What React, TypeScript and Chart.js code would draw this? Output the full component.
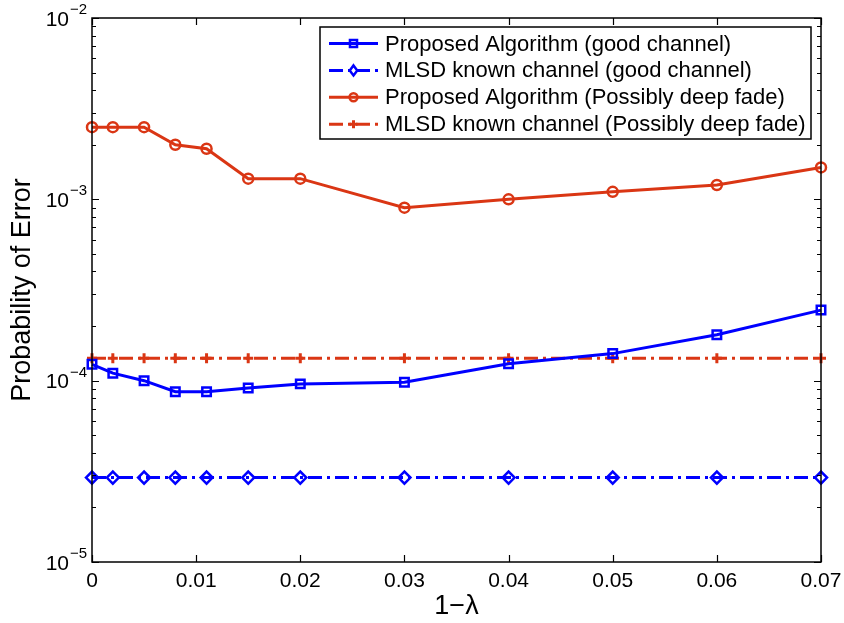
import React, { useEffect, useRef } from "react";
import { Chart, registerables } from "chart.js";

Chart.register(...registerables);

// ---- data ----
const X_VALUES = [0, 0.002, 0.005, 0.008, 0.011, 0.015, 0.02, 0.03, 0.04, 0.05, 0.06, 0.07];
const PROPOSED_GOOD = [1.23e-4, 1.1e-4, 1.0e-4, 8.7e-5, 8.7e-5, 9.1e-5, 9.6e-5, 9.8e-5, 1.24e-4, 1.41e-4, 1.79e-4, 2.45e-4];
const MLSD_GOOD = [2.92e-5, 2.92e-5, 2.92e-5, 2.92e-5, 2.92e-5, 2.92e-5, 2.92e-5, 2.92e-5, 2.92e-5, 2.92e-5, 2.92e-5, 2.92e-5];
const PROPOSED_FADE = [2.5e-3, 2.5e-3, 2.5e-3, 2.0e-3, 1.9e-3, 1.3e-3, 1.3e-3, 9.0e-4, 1.0e-3, 1.1e-3, 1.2e-3, 1.5e-3];
const MLSD_FADE = [1.33e-4, 1.33e-4, 1.33e-4, 1.33e-4, 1.33e-4, 1.33e-4, 1.33e-4, 1.33e-4, 1.33e-4, 1.33e-4, 1.33e-4, 1.33e-4];

const SERIES_LABELS = [
  "Proposed Algorithm (good channel)",
  "MLSD known channel (good channel)",
  "Proposed Algorithm (Possibly deep fade)",
  "MLSD known channel (Possibly deep fade)",
];
const X_TICKS = [0, 0.01, 0.02, 0.03, 0.04, 0.05, 0.06, 0.07];
const Y_TICK_EXPONENTS = [-5, -4, -3, -2];
const X_TITLE = "1\u2212\u03bb";
const Y_TITLE = "Probability of Error";

const BLUE = "#0000ff";
const RED = "#da3614";
const FONT = "'Liberation Sans', Arial, Helvetica, sans-serif";
const DASHDOT = [14, 5, 3, 5];

const toPoints = (ys: number[]) => X_VALUES.map((x, i) => ({ x, y: ys[i] }));

function drawMarker(ctx: CanvasRenderingContext2D, style: string, r: number, x: number, y: number) {
  ctx.beginPath();
  if (style === "rect") {
    const s = Math.SQRT1_2 * r;
    ctx.rect(x - s, y - s, 2 * s, 2 * s);
  } else if (style === "rectRot") {
    ctx.moveTo(x, y - r);
    ctx.lineTo(x + r * 0.75, y);
    ctx.lineTo(x, y + r);
    ctx.lineTo(x - r * 0.75, y);
    ctx.closePath();
  } else if (style === "circle") {
    ctx.arc(x, y, r, 0, Math.PI * 2);
  } else if (style === "cross") {
    ctx.moveTo(x - r, y);
    ctx.lineTo(x + r, y);
    ctx.moveTo(x, y - r);
    ctx.lineTo(x, y + r);
  }
  ctx.stroke();
}

const framePlugin = {
  id: "frame",
  afterDraw(chart: any) {
    const { ctx, chartArea, scales } = chart;
    const { left, right, top, bottom } = chartArea;
    const xs = scales.x;
    const ys = scales.y;
    ctx.save();
    ctx.strokeStyle = "#000";
    ctx.lineWidth = 1.2;
    ctx.setLineDash([]);
    ctx.beginPath();
    for (const v of X_TICKS) {
      const px = Math.round(xs.getPixelForValue(v)) + 0.5;
      ctx.moveTo(px, bottom);
      ctx.lineTo(px, bottom - 7);
      ctx.moveTo(px, top);
      ctx.lineTo(px, top + 7);
    }
    for (let e = -5; e <= -2; e++) {
      for (let m = 1; m <= 9; m++) {
        const v = m * Math.pow(10, e);
        if (v > 1.0001e-2) break;
        const py = Math.round(ys.getPixelForValue(v)) + 0.5;
        const len = m === 1 ? 7 : 4;
        ctx.moveTo(left, py);
        ctx.lineTo(left + len, py);
        ctx.moveTo(right, py);
        ctx.lineTo(right - len, py);
      }
    }
    ctx.stroke();
    ctx.lineWidth = 1.5;
    ctx.strokeRect(left, top, right - left, bottom - top);

    // y tick labels with superscript exponents
    ctx.fillStyle = "#000";
    for (const e of Y_TICK_EXPONENTS) {
      const py = ys.getPixelForValue(Math.pow(10, e));
      ctx.font = `21px ${FONT}`;
      ctx.textAlign = "right";
      ctx.textBaseline = "middle";
      ctx.fillText("10", left - 23, py + 2);
      ctx.font = `15px ${FONT}`;
      ctx.textAlign = "left";
      ctx.textBaseline = "alphabetic";
      ctx.fillText("\u2212" + Math.abs(e), left - 22, py - 4);
    }

    // legend
    const bx = 320, by = 27, bw = 491, bh = 112;
    ctx.fillStyle = "#fff";
    ctx.fillRect(bx, by, bw, bh);
    ctx.strokeStyle = "#000";
    ctx.lineWidth = 1.5;
    ctx.strokeRect(bx, by, bw, bh);
    chart.data.datasets.forEach((ds: any, i: number) => {
      const ry = 43.5 + i * 26.9;
      ctx.strokeStyle = ds.borderColor;
      ctx.lineWidth = ds.borderWidth;
      ctx.setLineDash(ds.borderDash || []);
      ctx.beginPath();
      ctx.moveTo(329, ry);
      ctx.lineTo(378, ry);
      ctx.stroke();
      ctx.setLineDash([]);
      ctx.lineWidth = ds.pointBorderWidth;
      ctx.strokeStyle = ds.pointBorderColor;
      drawMarker(ctx, ds.pointStyle, ds.pointRadius - 1, 353.5, ry);
      ctx.fillStyle = "#000";
      ctx.font = `22px ${FONT}`;
      ctx.textAlign = "left";
      ctx.textBaseline = "middle";
      ctx.fillText(ds.label, 385, ry + 1);
    });
    ctx.restore();
  },
};

export default function App() {
  const canvasRef = useRef<HTMLCanvasElement | null>(null);

  useEffect(() => {
    document.body.style.margin = "0";
    if (!canvasRef.current) return;
    const common = {
      fill: false,
      tension: 0,
      clip: false as any,
      pointBackgroundColor: "rgba(0,0,0,0)",
      pointBorderWidth: 2.5,
      borderWidth: 3,
    };
    const chart = new Chart(canvasRef.current, {
      type: "line",
      data: {
        datasets: [
          {
            ...common,
            label: SERIES_LABELS[0],
            data: toPoints(PROPOSED_GOOD),
            borderColor: BLUE,
            pointBorderColor: BLUE,
            pointStyle: "rect",
            pointRadius: 6,
          },
          {
            ...common,
            label: SERIES_LABELS[1],
            data: toPoints(MLSD_GOOD),
            borderColor: BLUE,
            pointBorderColor: BLUE,
            borderDash: DASHDOT,
            pointStyle: "rectRot",
            pointRadius: 6,
          },
          {
            ...common,
            label: SERIES_LABELS[2],
            data: toPoints(PROPOSED_FADE),
            borderColor: RED,
            pointBorderColor: RED,
            pointStyle: "circle",
            pointRadius: 5,
          },
          {
            ...common,
            label: SERIES_LABELS[3],
            data: toPoints(MLSD_FADE),
            borderColor: RED,
            pointBorderColor: RED,
            borderDash: DASHDOT,
            pointStyle: "cross",
            pointRadius: 5,
            pointBorderWidth: 3,
          },
        ] as any,
      },
      options: {
        responsive: false,
        animation: false,
        devicePixelRatio: 1,
        layout: { padding: { top: 18, right: 23, left: 0, bottom: 0 } },
        plugins: { legend: { display: false }, tooltip: { enabled: false } },
        scales: {
          x: {
            type: "linear",
            min: 0,
            max: 0.07,
            grid: { display: false, drawTicks: false },
            border: { display: false },
            afterBuildTicks: (s: any) => {
              s.ticks = X_TICKS.map((v) => ({ value: v }));
            },
            afterFit: (s: any) => {
              s.height = 61;
              s.paddingLeft = 0;
              s.paddingRight = 0;
            },
            ticks: {
              color: "#000",
              padding: 7,
              maxRotation: 0,
              autoSkip: false,
              font: { family: FONT, size: 21 },
              callback: (v: any) => (Number(v) === 0 ? "0" : Number(v).toFixed(2)),
            },
            title: {
              display: true,
              text: X_TITLE,
              color: "#000",
              font: { family: FONT, size: 27, lineHeight: 1 },
              padding: { top: 0, bottom: 3 },
            },
          },
          y: {
            type: "logarithmic",
            min: 1e-5,
            max: 1e-2,
            grid: { display: false, drawTicks: false },
            border: { display: false },
            afterFit: (s: any) => {
              s.width = 92;
              s.paddingTop = 0;
              s.paddingBottom = 0;
            },
            ticks: { display: false },
            title: {
              display: true,
              text: Y_TITLE,
              color: "#000",
              font: { family: FONT, size: 27, lineHeight: 1 },
              padding: { top: 9, bottom: 0 },
            },
          },
        },
      } as any,
      plugins: [framePlugin],
    });
    return () => chart.destroy();
  }, []);

  return (
    <div style={{ width: 844, height: 623 }}>
      <canvas ref={canvasRef} width={844} height={623} style={{ display: "block" }} />
    </div>
  );
}
